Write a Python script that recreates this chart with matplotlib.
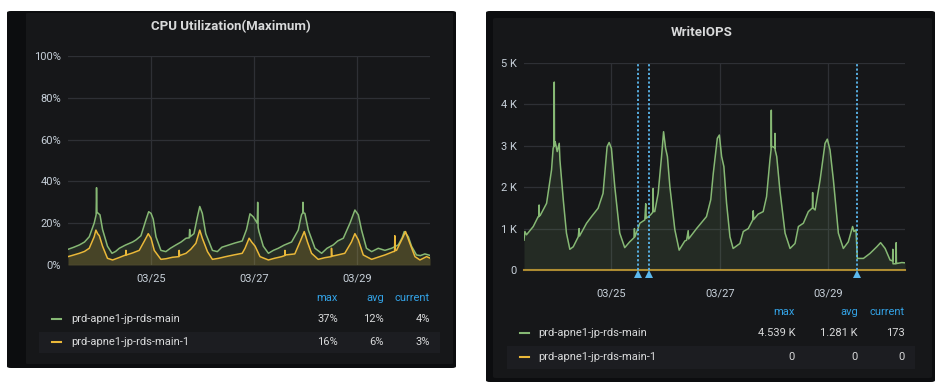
import matplotlib
matplotlib.use("Agg")
import matplotlib.pyplot as plt
import matplotlib.dates as mdates
from matplotlib.patches import FancyBboxPatch, Rectangle
import matplotlib.transforms as mtransforms
import numpy as np
import pandas as pd

plt.rcParams["font.family"] = ["Roboto", "DejaVu Sans"]

# ---- data (hours since 03/23 00:00) ----
cpu_main_h = [9.3, 12, 14.6, 17, 19.2, 21.5, 22.4, 22.6, 22.8, 23.1, 24.2, 25.4, 27.7, 29.8, 31.5,
              33.2, 36, 39.4, 41, 43.3, 45.6, 46.9, 48.0, 49.0, 50.3, 52.6, 54.9, 57, 59.6, 62,
              64.3, 65.8, 66.0, 66.2, 68.0, 69.6, 70.7, 71.9, 73.5, 76.6, 78.9, 81, 84.3, 87,
              90.5, 92.5, 94.1, 95.7, 97.5, 97.7, 97.9, 98.3, 100.3, 102.7, 105, 107.3, 110,
              113.5, 116.6, 118.1, 118.7, 118.8, 119.0, 119.7, 121.3, 124.4, 127.5, 130, 132.9,
              135, 137.6, 140.7, 143.0, 144.6, 146.1, 148.4, 150.8, 153.9, 157.0, 160.1, 163.2,
              165, 166.0, 166.8, 167.9, 169.4, 171.7, 173.5, 175.6, 178.0]
cpu_main = [7.5, 8.5, 9.6, 11, 13.5, 20, 24, 37, 25, 25, 24, 17, 9, 5.6, 6.5,
            8, 9.5, 11, 12, 14, 21.5, 25.5, 24.7, 22, 13.5, 7, 6.4, 8, 9.6, 11,
            12.8, 13, 17, 13.5, 15, 23, 28, 24.7, 15, 7, 6.4, 8.5, 9.6, 10.5,
            11.5, 17, 24.5, 23, 20, 30, 18, 16, 9, 5.6, 7, 8, 9.5,
            11, 16.7, 24, 25, 30, 25, 24.7, 16.7, 8, 5.6, 8, 9.6,
            11.5, 12.8, 20, 26.3, 24, 16.7, 8, 6.4, 8, 7, 8, 9.6,
            13, 16, 15, 13.5, 9, 4.8, 4.5, 5.3, 4.6]

cpu_main1_h = [9.3, 12, 14.6, 17, 19.2, 21.5, 22.3, 23.1, 23.9, 25.4, 27.7, 30.1, 33, 36.2, 36.3,
               36.5, 39.5, 42.5, 45.6, 46.7, 48.0, 49.5, 52.6, 55, 58, 61.0, 61.1, 61.3, 64.3,
               66.5, 68.9, 70.7, 71.9, 74.3, 76.6, 79.5, 82.8, 86.5, 90.5, 91.8, 93.7, 94.9,
               96.5, 98.8, 102.7, 105.5, 108.9, 110.3, 110.4, 110.6, 115, 117.8, 119.4, 120.9,
               122.8, 125.9, 129, 132.0, 132.1, 132.3, 135, 138.3, 141.4, 143.0, 144.6, 146.9,
               150.8, 154, 157.0, 160.9, 161.5, 161.6, 161.8, 162.4, 165.5, 166.6, 168.6, 171.0,
               173.3, 176.4, 178.0]
cpu_main1 = [4, 4.8, 5.6, 6.5, 8, 13.5, 16.7, 15, 14, 9, 3.2, 2.4, 3.5, 4.8, 7,
             4.8, 5.8, 7, 12.8, 15, 12.8, 7, 2.7, 3, 3.7, 4, 7, 4.5, 5.6,
             7.5, 10.4, 16.7, 12.8, 6.4, 2.7, 3.2, 4, 4.8, 5.6, 8, 12.8, 11,
             9, 4, 2.4, 3.2, 4, 4.5, 7, 4.8, 5.3, 12, 16, 11,
             5.6, 2.7, 3.5, 4, 8, 4.2, 4.8, 5.6, 11, 15, 12, 4.8,
             2.7, 3.8, 4.8, 6.4, 6.5, 14, 7, 7, 13.5, 16, 10.4, 4,
             2.4, 4, 3.3]

wiops_main_h = [9.3, 9.7, 10.4, 13.4, 15.6, 15.9, 16.0, 16.1, 16.6, 19.3, 21.5, 22.2, 22.6, 22.7,
                22.8, 23.1, 24.0, 24.9, 25.2, 26.7, 28.1, 29.6, 31.1, 33.3, 33.7, 33.9, 37.0,
                39.2, 42.1, 44.3, 46.1, 47.0, 48.0, 49.5, 51.7, 53.9, 56.1, 58.0, 58.2, 58.4,
                60.6, 62.8, 63.2, 63.4, 65.3, 66.4, 66.5, 66.6, 67.2, 68.7, 70.2, 71.1, 72.0,
                72.8, 73.9, 76.1, 78.0, 80.5, 81.3, 82.0, 82.2, 85.7, 90.1, 92.0, 93.1, 94.9,
                95.8, 96.8, 97.8, 99.0, 100.5, 101.9, 104.9, 106.4, 108.6, 110.6, 110.8, 111.0,
                113.0, 115.2, 116.7, 118.2, 118.7, 118.8, 118.9, 119.4, 120.3, 120.4, 120.5,
                121.2, 122.6, 124.9, 127.1, 129.3, 130.8, 133.0, 135.2, 137.0, 137.1, 137.2,
                138.2, 140.4, 142.6, 143.6, 144.8, 146.3, 148.5, 150.7, 152.9, 154.8, 155.4,
                156.3, 156.9, 159.6, 162.5, 165.5, 167.2, 169.2, 171.4, 172.5, 172.6, 172.7,
                174.0, 174.1, 174.2, 174.6, 176.6, 178.0]
wiops_main = [720, 930, 850, 1050, 1290, 1290, 1570, 1300, 1330, 1610, 2420, 2940, 3000, 4539,
              3000, 3100, 2860, 3060, 2660, 1690, 890, 500, 560, 800, 1000, 820, 1130,
              1290, 1490, 1850, 2980, 3080, 2940, 2010, 890, 540, 680, 780, 1000, 800,
              1130, 1210, 1600, 1250, 1330, 1400, 1970, 1420, 1410, 1850, 2740, 3340, 2940,
              2740, 2010, 970, 480, 700, 720, 950, 750, 1000, 1290, 1700, 2330, 3180,
              3260, 2740, 2500, 1610, 800, 520, 640, 930, 1000, 1210, 1430, 1220,
              1350, 1410, 1770, 2660, 2900, 3860, 2980, 2980, 2950, 3300, 2900,
              2740, 1930, 890, 520, 640, 1050, 1130, 1410, 1500, 1870, 1500,
              1450, 2170, 3060, 3160, 2900, 2170, 890, 520, 680, 1050, 930,
              970, 280, 280, 400, 560, 660, 520, 240, 220, 500, 150,
              150, 660, 160, 160, 180, 173]

wiops_main1_h = [9.3, 178.0]
wiops_main1 = [0, 0]

annotation_h = [59.7, 64.6, 156.6]

cpu_ticks = [0, 20, 40, 60, 80, 100]
cpu_ticklabels = ["0%", "20%", "40%", "60%", "80%", "100%"]
wiops_ticks = [0, 1000, 2000, 3000, 4000, 5000]
wiops_ticklabels = ["0", "1 K", "2 K", "3 K", "4 K", "5 K"]
date_ticks = ["2020-03-25", "2020-03-27", "2020-03-29"]

series_names = ["prd-apne1-jp-rds-main", "prd-apne1-jp-rds-main-1"]
cpu_stats = [["37%", "12%", "4%"], ["16%", "6%", "3%"]]
wiops_stats = [["4.539 K", "1.281 K", "173"], ["0", "0", "0"]]

# ---- style ----
W, H = 941, 387
panel_bg = "#161719"
frame_bg = "#0c0d0f"
grid_c = "#2e3035"
text_c = "#d8d9da"
tick_c = "#c7d0d9"
blue = "#33a2e5"
green = "#86b874"
yellow = "#EAB839"
anno_c = "#5bb8ee"
fs = 8

base = pd.Timestamp("2020-03-23")


def to_time(hours):
    return base + pd.to_timedelta(np.array(hours, dtype=float), unit="h")


def fx(x):
    return x / W


def fy(y):
    return 1 - y / H


fig = plt.figure(figsize=(W / 100, H / 100), dpi=100)
fig.patch.set_facecolor("white")


def box(x0, y0, x1, y1, color, r=3, z=-3):
    p = FancyBboxPatch((fx(x0), fy(y1)), fx(x1) - fx(x0), fy(y0) - fy(y1),
                       boxstyle="round,pad=0,rounding_size=%f" % (r / W),
                       transform=fig.transFigure, facecolor=color, edgecolor="none", zorder=z)
    fig.patches.append(p)


def rect(x0, y0, x1, y1, color):
    p = Rectangle((fx(x0), fy(y1)), fx(x1) - fx(x0), fy(y0) - fy(y1),
                  transform=fig.transFigure, facecolor=color, edgecolor="none", zorder=-1)
    fig.patches.append(p)


# panel frames
box(7, 11, 456, 368, frame_bg, 4, -3)
box(26, 13, 453, 364, panel_bg, 2, -2)
box(486, 11, 935, 382, frame_bg, 4, -3)
box(493, 18, 932, 378, panel_bg, 3, -2)

# legend highlighted rows
rect(39, 332, 440, 353, "#1c1d21")
rect(507, 346, 915, 369, "#1c1d21")

t0 = to_time([9.3])[0]
t1 = to_time([178.0])[0]


def style_axes(ax, ticks, labels, xpad):
    ax.set_facecolor(panel_bg)
    for s in ax.spines.values():
        s.set_visible(False)
    ax.set_xlim(t0, t1)
    ax.set_yticks(ticks)
    ax.set_yticklabels(labels)
    ax.set_xticks(pd.to_datetime(date_ticks))
    ax.xaxis.set_major_formatter(mdates.DateFormatter("%m/%d"))
    ax.grid(True, color=grid_c, linewidth=0.9)
    ax.set_axisbelow(True)
    ax.tick_params(axis="both", length=0, colors=tick_c, labelsize=fs)
    ax.tick_params(axis="y", pad=5)
    ax.tick_params(axis="x", pad=xpad)


# ---- CPU panel ----
ax1 = fig.add_axes([fx(68), fy(265), fx(430) - fx(68), fy(56) - fy(265)])
style_axes(ax1, cpu_ticks, cpu_ticklabels, 6)
ax1.set_ylim(0, 100)
t = to_time(cpu_main_h)
ax1.fill_between(t, cpu_main, 0, color=green, alpha=0.13, linewidth=0)
ax1.plot(t, cpu_main, color=green, linewidth=1.1)
t = to_time(cpu_main1_h)
ax1.fill_between(t, cpu_main1, 0, color=yellow, alpha=0.18, linewidth=0)
ax1.plot(t, cpu_main1, color=yellow, linewidth=1.1)

fig.text(fx(231), fy(27), "CPU Utilization(Maximum)", color=text_c, fontsize=9.5,
         fontweight="bold", ha="center", va="center")

# ---- WriteIOPS panel ----
ax2 = fig.add_axes([fx(524), fy(270), fx(905) - fx(524), fy(63) - fy(270)])
style_axes(ax2, wiops_ticks, wiops_ticklabels, 13)
ax2.set_ylim(0, 5000)
t = to_time(wiops_main_h)
ax2.fill_between(t, wiops_main, 0, color=green, alpha=0.13, linewidth=0)
ax2.plot(t, wiops_main, color=green, linewidth=1.1)
t = to_time(wiops_main1_h)
ax2.plot(t, wiops_main1, color=yellow, linewidth=1.5, alpha=0.7, clip_on=False)

trans = mtransforms.blended_transform_factory(ax2.transData, ax2.transAxes)
for ta in to_time(annotation_h):
    ax2.plot([ta, ta], [0, 1], transform=trans, color=anno_c, linestyle=(0, (1.2, 1.2)),
             linewidth=1.3, clip_on=False, zorder=5)
    ax2.plot([ta], [-0.02], transform=trans, marker="^", markersize=6, color=anno_c,
             markeredgewidth=0, clip_on=False, zorder=6)

fig.text(fx(702), fy(33), "WriteIOPS", color=text_c, fontsize=9.5,
         fontweight="bold", ha="center", va="center")


# ---- legends ----
def legend(header_y, row_ys, dash_x, name_x, col_x, stats):
    for label, x in zip(["max", "avg", "current"], col_x):
        fig.text(fx(x), fy(header_y), label, color=blue, fontsize=fs, ha="right", va="center")
    for i, (name, color) in enumerate(zip(series_names, [green, yellow])):
        y = row_ys[i]
        fig.lines.append(plt.Line2D([fx(dash_x), fx(dash_x + 9)], [fy(y), fy(y)],
                                    transform=fig.transFigure, color=color, linewidth=1.5))
        fig.text(fx(name_x), fy(y), name, color=text_c, fontsize=fs, ha="left", va="center")
        for val, x in zip(stats[i], col_x):
            fig.text(fx(x), fy(y), val, color=text_c, fontsize=fs, ha="right", va="center")


legend(298, [319, 342], 52, 71, [338, 384, 430], cpu_stats)
legend(312, [333, 357], 520, 538, [795, 858, 905], wiops_stats)

fig.savefig("out.png", dpi=100, facecolor=fig.get_facecolor())
